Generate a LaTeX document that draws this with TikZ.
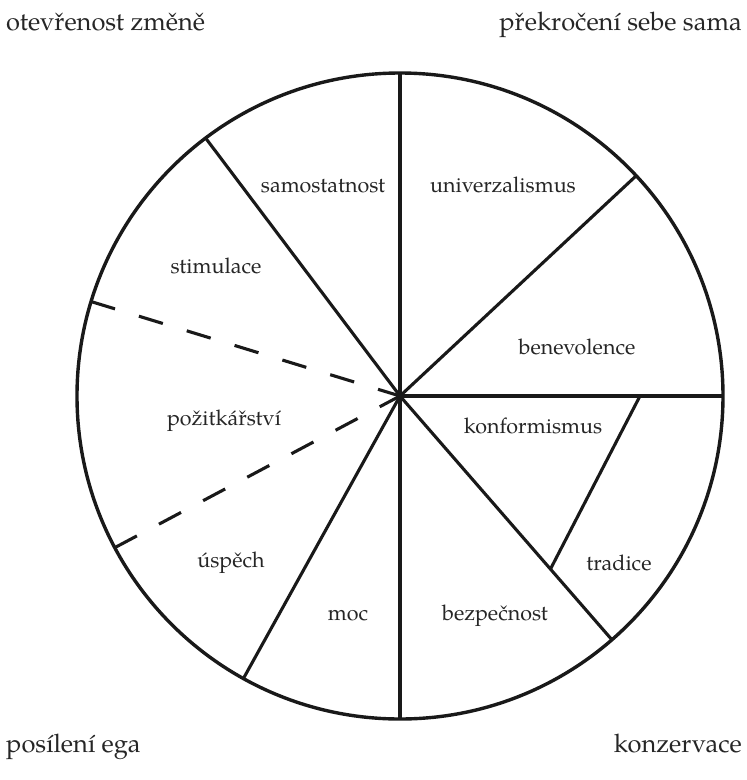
\documentclass[tikz,border=0pt]{standalone}
\usepackage{fontspec}
\setmainfont{TeX Gyre Pagella}
\usetikzlibrary{calc}
\begin{document}
\begin{tikzpicture}[x=1pt,y=-1pt,
  radial/.style={line width=3.1pt, draw=black!90},
  dashradial/.style={line width=3.1pt, draw=black!90, dash pattern=on 25pt off 25pt},
  lbl/.style={font=\fontsize{21.5}{24}\selectfont, inner sep=0pt, text=black!85, anchor=base},
  ttl/.style={font=\fontsize{25.5}{28}\selectfont, inner sep=0pt, text=black!85},
  wheelstyle/.style={circle, draw=black!90, line width=3.4pt, minimum size=646pt, inner sep=0pt, outer sep=0pt}]
\useasboundingbox (0,0) rectangle (747,780);
\coordinate (c) at (400,396);
\node[wheelstyle] (wheel) at (c) {};
% solid radii
\draw[radial] (c) -- (wheel.90);
\draw[radial] (c) -- (wheel.43);
\draw[radial] (c) -- (wheel.0);
\draw[radial] (c) -- (wheel.-49);
\draw[radial] (c) -- (wheel.-90);
\draw[radial] (c) -- (wheel.241);
\draw[radial] (c) -- (wheel.127);
% dashed radii
\draw[dashradial] (wheel.163) -- (c);
\draw[dashradial] (wheel.208) -- (c);
% chord
\coordinate (k1) at ($(c)!0.743!(wheel.0)$);
\coordinate (k2) at ($(c)!0.71!(wheel.-49)$);
\draw[radial] (k1) -- (k2);
% sector labels
\node[lbl] (samostatnost) at (323,192) {samostatnost};
\node[lbl] (univerzalismus) at (503,192) {univerzalismus};
\node[lbl] (stimulace) at (216,273) {stimulace};
\node[lbl] (benevolence) at (577,354) {benevolence};
\node[lbl] (pozitkarstvi) at (224,425) {požitkářství};
\node[lbl] (konformismus) at (533,433) {konformismus};
\node[lbl] (uspech) at (231,567) {úspěch};
\node[lbl] (tradice) at (619,570) {tradice};
\node[lbl] (moc) at (348,620) {moc};
\node[lbl] (bezpecnost) at (495,620) {bezpečnost};
% quadrant titles
\node[ttl, anchor=base west] (otev) at (6,30) {otevřenost změně};
\node[ttl, anchor=base east] (prek) at (742,30) {překročení sebe sama};
\node[ttl, anchor=base west] (posil) at (6,752) {posílení ega};
\node[ttl, anchor=base east] (konz) at (742,752) {konzervace};
\end{tikzpicture}
\end{document}
